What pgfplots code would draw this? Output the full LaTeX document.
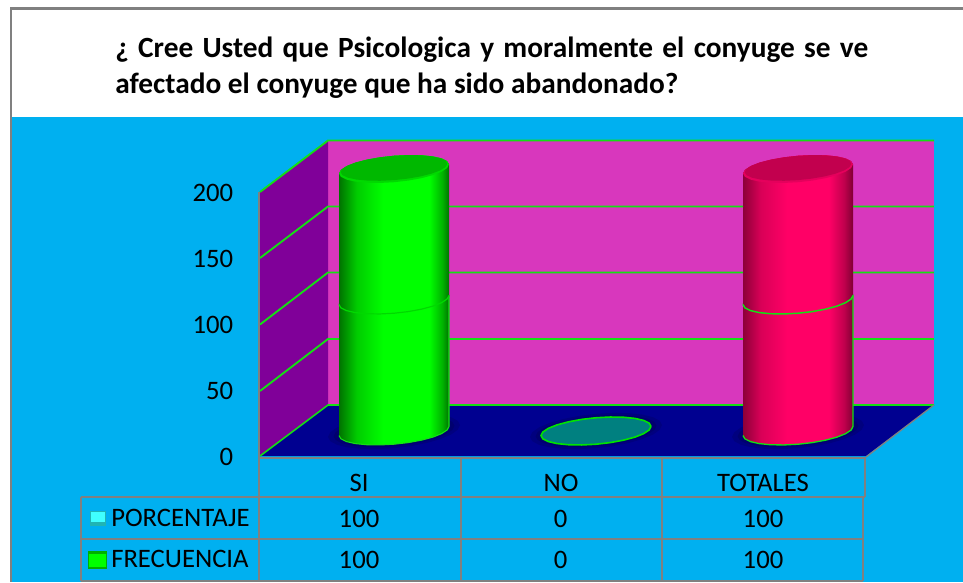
\documentclass[border=0pt]{standalone}
\usepackage{fontspec}
\setmainfont{Carlito}
\usepackage{pgfplots}
\usepackage{pgfplotstable}
\pgfplotsset{compat=1.18}
\definecolor{skyb}{HTML}{00B0F0}
\definecolor{backw}{HTML}{D837BD}
\definecolor{leftw}{HTML}{800099}
\definecolor{floorb}{HTML}{000090}
\definecolor{gridg}{HTML}{14E014}
\definecolor{framegr}{HTML}{808080}
\definecolor{keycy}{HTML}{40FFFF}
\definecolor{keycyd}{HTML}{20B4B4}
\definecolor{keygrd}{HTML}{00B000}
\definecolor{halo}{HTML}{000060}
\definecolor{tealc}{HTML}{008080}
\pgfdeclarehorizontalshading{cylgreen}{100bp}{color(0bp)=(green!45!black);color(25bp)=(green!45!black);color(33bp)=(green!80!black);color(45bp)=(green);color(66bp)=(green);color(72bp)=(green!70!black);color(75bp)=(green!45!black);color(100bp)=(green!45!black)}
\definecolor{pinkm}{HTML}{FF0066}
\pgfdeclarehorizontalshading{cylpink}{100bp}{color(0bp)=(pinkm!55!black);color(25bp)=(pinkm!55!black);color(33bp)=(pinkm!85!black);color(45bp)=(pinkm);color(64bp)=(pinkm);color(71bp)=(pinkm!75!black);color(75bp)=(pinkm!50!black);color(100bp)=(pinkm!50!black)}
% unit tilted ellipse of a column end, in category / value units
\pgfplotstableread{
dx dy
0.2723 3.48
0.2630 5.98
0.2358 8.07
0.1925 9.61
0.1361 10.49
0.0705 10.66
0 10.11
-0.0705 8.86
-0.1361 7.01
-0.1925 4.69
-0.2358 2.04
-0.2630 -0.75
-0.2723 -3.48
-0.2630 -5.98
-0.2358 -8.07
-0.1925 -9.61
-0.1361 -10.49
-0.0705 -10.66
0 -10.11
0.0705 -8.86
0.1361 -7.01
0.1925 -4.69
0.2358 -2.04
0.2630 0.75
0.2723 3.48
}\capshape
\pgfplotstableread{
dx dy
-0.2723 -3.48
-0.2630 -5.98
-0.2358 -8.07
-0.1925 -9.61
-0.1361 -10.49
-0.0705 -10.66
0 -10.11
0.0705 -8.86
0.1361 -7.01
0.1925 -4.69
0.2358 -2.04
0.2630 0.75
0.2723 3.48
}\seamshape
\pgfplotstableread{
dx dy lv
-0.2723 -3.48 0
-0.2630 -5.98 0
-0.2358 -8.07 0
-0.1925 -9.61 0
-0.1361 -10.49 0
-0.0705 -10.66 0
0 -10.11 0
0.0705 -8.86 0
0.1361 -7.01 0
0.1925 -4.69 0
0.2358 -2.04 0
0.2630 0.75 0
0.2723 3.48 0
0.2723 3.48 1
0.2630 5.98 1
0.2358 8.07 1
0.1925 9.61 1
0.1361 10.49 1
0.0705 10.66 1
0 10.11 1
-0.0705 8.86 1
-0.1361 7.01 1
-0.1925 4.69 1
-0.2358 2.04 1
-0.2630 -0.75 1
-0.2723 -3.48 1
}\bodyshape
% #1 category position, #2 lower value, #3 upper value, #4 style
\newcommand\bodyseg[4]{\addplot[#4] table[x expr=\thisrow{dx}+#1, y expr=\thisrow{dy}+(1-\thisrow{lv})*#2+\thisrow{lv}*#3]{\bodyshape};}
\newcommand\capat[5]{\addplot[#5] table[x expr=#3*\thisrow{dx}+#1, y expr=#4*\thisrow{dy}+#2]{\capshape};}
\newcommand\seamat[3]{\addplot[#3] table[x expr=\thisrow{dx}+#1, y expr=\thisrow{dy}+#2]{\seamshape};}
\begin{document}
\begin{tikzpicture}[x=1pt,y=1pt]
\path[use as bounding box] (0,0) rectangle (722.25pt,436.5pt);
% ---------- background layer, in the pixel frame of the slide
\begin{axis}[at={(0,0)},anchor=south west,scale only axis,width=722.25pt,height=436.5pt,
  xmin=0,xmax=963,ymin=0,ymax=582,y dir=reverse,axis lines=none,clip=true]
\addplot[fill=white,draw=none] coordinates {(0,0)(963,0)(963,582)(0,582)};
\addplot[fill=skyb,draw=none] coordinates {(12,117)(963,117)(963,582)(12,582)};
\addplot[framegr,line width=1.6pt] coordinates {(11,582)(11,8.5)(963,8.5)};
% walls
\addplot[fill=backw,draw=none] coordinates {(328,141)(934,141)(934,405)(328,405)};
\addplot[fill=leftw,draw=none] coordinates {(260,192)(328,141)(328,405)(260,456)};
\addplot[fill=floorb,draw=none] coordinates {(260,456)(328,405)(934,405)(866,456)};
% grid
\addplot[gridg,line width=1.4pt] coordinates {(260,192)(328,140.5)(934,140.5)};
\addplot[gridg,line width=1.4pt] coordinates {(260,258)(328,206.5)(934,206.5)};
\addplot[gridg,line width=1.4pt] coordinates {(260,324.5)(328,272.5)(934,272.5)};
\addplot[gridg,line width=1.4pt] coordinates {(260,391)(328,339)(934,339)};
\addplot[gridg,line width=1.2pt] coordinates {(260,456)(328,405)(934,405)};
\addplot[framegr,line width=1pt] coordinates {(934,405)(866,457)};
% data table rules
\addplot[framegr,line width=1.5pt] coordinates {(259,192)(259,581)};
\addplot[framegr,line width=1.5pt] coordinates {(259,457.5)(865,457.5)};
\addplot[framegr,line width=1.5pt] coordinates {(80.5,497)(865,497)};
\addplot[framegr,line width=1.5pt] coordinates {(80.5,539)(863,539)};
\addplot[framegr,line width=1.5pt] coordinates {(80.5,581)(863,581)};
\addplot[framegr,line width=1.5pt] coordinates {(80.5,497)(80.5,581)};
\addplot[framegr,line width=1.5pt] coordinates {(460.5,457)(460.5,581)};
\addplot[framegr,line width=1.5pt] coordinates {(661.5,457)(661.5,581)};
\addplot[framegr,line width=1.5pt] coordinates {(864.5,457)(864.5,497)};
\addplot[framegr,line width=1.5pt] coordinates {(862.5,497)(862.5,581)};
% legend keys
\addplot[fill=keycyd,draw=none] coordinates {(90,511)(106,511)(106,526)(90,526)};
\addplot[fill=keycy,draw=none] coordinates {(91,512)(105,512)(105,522)(91,522)};
\addplot[fill=keygrd,draw=none] coordinates {(88,551)(107,551)(107,569)(88,569)};
\addplot[fill=green,draw=none] coordinates {(89,554)(106,554)(106,567)(89,567)};
% title
\node[anchor=base west,inner sep=0pt,font=\fontsize{22pt}{26pt}\selectfont\bfseries] at (axis cs:115,57) {\makebox[564.75pt][s]{¿ Cree Usted que Psicologica y moralmente el conyuge se ve}};
\node[anchor=base west,inner sep=0pt,font=\fontsize{22pt}{26pt}\selectfont\bfseries] at (axis cs:115,93) {afectado el conyuge que ha sido abandonado?};
% table text
\node[anchor=base west,inner sep=0pt,font=\fontsize{20pt}{24pt}\selectfont] at (axis cs:111,526) {PORCENTAJE};
\node[anchor=base west,inner sep=0pt,font=\fontsize{20pt}{24pt}\selectfont] at (axis cs:111,567.5) {FRECUENCIA};
\node[anchor=base,inner sep=0pt,font=\fontsize{20pt}{24pt}\selectfont] at (axis cs:359,527.5) {100};
\node[anchor=base,inner sep=0pt,font=\fontsize{20pt}{24pt}\selectfont] at (axis cs:560.5,527.5) {0};
\node[anchor=base,inner sep=0pt,font=\fontsize{20pt}{24pt}\selectfont] at (axis cs:763,527.5) {100};
\node[anchor=base,inner sep=0pt,font=\fontsize{20pt}{24pt}\selectfont] at (axis cs:359,568.5) {100};
\node[anchor=base,inner sep=0pt,font=\fontsize{20pt}{24pt}\selectfont] at (axis cs:560.5,568.5) {0};
\node[anchor=base,inner sep=0pt,font=\fontsize{20pt}{24pt}\selectfont] at (axis cs:763,568.5) {100};
\end{axis}
% ---------- columns: category 0,1,2 and values 0-200
\begin{axis}[at={(0,0)},anchor=south west,scale only axis,width=722.25pt,height=436.5pt,
  xmin=-1.9505,xmax=2.8168,ymin=-115.27,ymax=329,axis lines=none,clip=true]
% shadows on the floor
\capat{0}{0}{1.2}{1.3}{fill=halo,draw=none,opacity=.35}
\capat{0}{0}{1.1}{1.15}{fill=halo,draw=none,opacity=.5}
\capat{1}{0}{1.2}{1.3}{fill=halo,draw=none,opacity=.35}
\capat{1}{0}{1.1}{1.15}{fill=halo,draw=none,opacity=.5}
\capat{2}{0}{1.2}{1.3}{fill=halo,draw=none,opacity=.35}
\capat{2}{0}{1.1}{1.15}{fill=halo,draw=none,opacity=.5}
% SI: 100 + 100
\bodyseg{0}{0}{100}{shade,shading=cylgreen,draw=gridg,line width=.8pt}
\bodyseg{0}{100}{200}{shade,shading=cylgreen,draw=none}
\seamat{0}{100}{green!85!black,line width=.9pt}
\capat{0}{200}{1}{1}{fill=green!85!black,draw=none}
\capat{0}{200.8}{.97}{.92}{fill=green!72!black,draw=none}
% NO: 0 + 0
\capat{1}{0}{1}{1}{fill=tealc,draw=green!90!black,line width=1.2pt}
% TOTALES: 100 + 100
\bodyseg{2}{0}{100}{shade,shading=cylpink,draw=gridg,line width=1pt}
\bodyseg{2}{100}{200}{shade,shading=cylpink,draw=none}
\seamat{2}{100}{gridg,line width=1.1pt}
\capat{2}{200}{1}{1}{fill=pinkm!90!black,draw=none}
\capat{2}{200.8}{.97}{.92}{fill=pinkm!76!black,draw=none}
\end{axis}
% ---------- value axis labels and category labels on the front plane
\begin{axis}[at={(195pt,94.5pt)},anchor=south west,scale only axis,width=454.5pt,height=198pt,
  xmin=-0.5,xmax=2.5,ymin=0,ymax=200,
  xtick={0,1,2},xticklabels={SI,NO,TOTALES},ytick={0,50,100,150,200},
  axis line style={draw=none},tick style={draw=none},
  /pgf/number format/assume math mode=true,
  tick label style={font=\fontsize{20pt}{24pt}\selectfont},
  yticklabel style={anchor=east,xshift=-20pt,yshift=-.8pt,inner sep=0pt},
  xticklabel style={anchor=base,xshift=-1.5pt,yshift=-26.7pt,inner sep=0pt}]
\addplot[draw=none,forget plot] coordinates {(0,100)(1,0)(2,100)};
\end{axis}
\end{tikzpicture}
\end{document}
